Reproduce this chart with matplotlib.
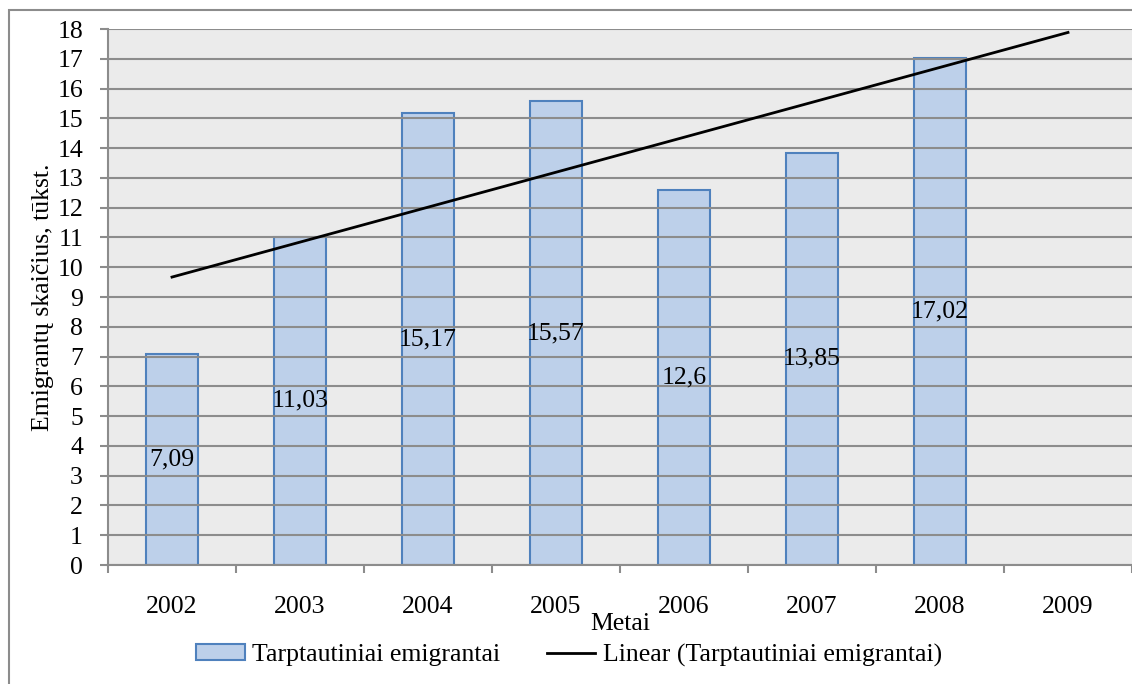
import matplotlib.pyplot as plt
import numpy as np
from matplotlib.patches import Rectangle

# duomenys
years = ['2002', '2003', '2004', '2005', '2006', '2007', '2008', '2009']
emigrants = [7.09, 11.03, 15.17, 15.57, 12.6, 13.85, 17.02]
value_labels = ['7,09', '11,03', '15,17', '15,57', '12,6', '13,85', '17,02']

plt.rcParams['font.family'] = ['Liberation Serif', 'DejaVu Serif']
fs = 18.5

fig = plt.figure(figsize=(11.32, 6.84), dpi=100)
# outer chart border (only left/top visible in the original)
fig.patches.append(Rectangle((9 / 1132, -0.1), 1.2, 1 - 10 / 684 + 0.1,
                             transform=fig.transFigure, fill=False,
                             edgecolor='#8C8C8C', lw=1.5, zorder=0))

ax = fig.add_axes([108 / 1132, 1 - 565 / 684, 1 - 108 / 1132, (565 - 29) / 684])
ax.set_facecolor('#EBEBEB')

x = np.arange(len(emigrants))
bars = ax.bar(x, emigrants, width=0.4, color='#BDD0EA', edgecolor='#4F81BD',
              linewidth=1.5, label='Tarptautiniai emigrantai', zorder=1)
ax.bar_label(bars, labels=value_labels, label_type='center', fontsize=fs, zorder=5)

# linijinis trendas (Excel: x = 1..n), pratęstas iki 2009
k, b = np.polyfit(x + 1, emigrants, 1)
xt = np.arange(len(years))
trend, = ax.plot(xt, k * (xt + 1) + b, color='black', lw=2,
                 label='Linear (Tarptautiniai emigrantai)', zorder=3)

ax.set_xlim(-0.5, len(years) - 0.5)
ax.set_ylim(0, 18)
ax.set_yticks(range(0, 19))
ax.set_xticks(xt)
ax.set_xticklabels(years)
ax.set_xticks(np.arange(-0.5, len(years), 1), minor=True)
ax.tick_params(axis='x', which='major', length=0, pad=22, labelsize=fs)
ax.tick_params(axis='x', which='minor', length=6, color='#8C8C8C', width=1.5)
ax.tick_params(axis='y', length=6, color='#8C8C8C', width=1.5, pad=12, labelsize=fs)

ax.set_axisbelow('line')
ax.grid(axis='y', color='#8C8C8C', lw=1.5)
for s in ['top', 'right']:
    ax.spines[s].set_visible(False)
for s in ['left', 'bottom']:
    ax.spines[s].set_color('#8C8C8C')
    ax.spines[s].set_linewidth(1.5)

ax.set_ylabel('Emigrantų skaičius, tūkst.', fontsize=fs, labelpad=2)
ax.set_xlabel('Metai', fontsize=fs, labelpad=-3)

fig.legend(handles=[bars, trend], loc='center',
           bbox_to_anchor=(569 / 1132, 1 - 655 / 684), ncol=2,
           frameon=False, fontsize=fs, handlelength=1.9, handleheight=0.6,
           handletextpad=0.3, columnspacing=1.8, borderaxespad=0)

fig.savefig('out.png', dpi=100)
